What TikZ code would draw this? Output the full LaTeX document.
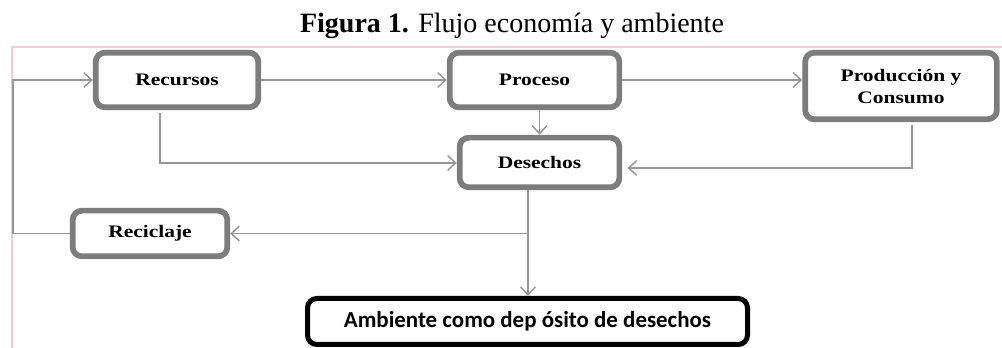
\documentclass[tikz,border=0pt]{standalone}
\usepackage{fontspec}
\setmainfont{Liberation Serif}
\newfontfamily\boxfont[FakeStretch=1.22]{Liberation Serif}
\newfontfamily\ambfont{Carlito}
\usetikzlibrary{arrows.meta}
\definecolor{boxgray}{RGB}{125,125,125}
\definecolor{linegray}{RGB}{150,150,150}
\definecolor{framepink}{RGB}{255,200,200}
\tikzset{
  gbox/.style={draw=boxgray, line width=4.3pt, rounded corners=7pt, fill=white,
    inner sep=0pt, align=center, font=\boxfont\bfseries\fontsize{13.2}{16.5}\selectfont},
  bbox/.style={draw=black, line width=3.75pt, rounded corners=7pt, fill=white,
    inner sep=0pt, font=\ambfont\bfseries\fontsize{17.2}{20}\selectfont},
  conn/.style={draw=linegray, line width=1.1pt},
  arr/.style={conn, -{Straight Barb[length=6pt,width=11pt,line width=1.1pt]}},
}
\begin{document}
\begin{tikzpicture}[x=0.75pt,y=-0.75pt]
\useasboundingbox (0,0) rectangle (1002,348);
% frame
\draw[framepink, line width=1.2pt] (1002,47) -- (12,47) -- (12,348);
% title
\node[anchor=base, font=\fontsize{21}{25}\selectfont, inner sep=0pt] (title) at (512,33) {\textbf{Figura 1.} Flujo economía y ambiente};
% boxes
\node[gbox, minimum width=122pt, minimum height=41pt] (rec) at (177,80) {Recursos};
\node[gbox, minimum width=127.3pt, minimum height=41pt] (pro) at (534.5,80) {Proceso};
\node[gbox, minimum width=143.8pt, minimum height=50pt] (prod) at (901,86) {Producción y\\Consumo};
\node[gbox, minimum width=119.8pt, minimum height=37.3pt] (des) at (539.5,162.5) {Desechos};
\node[gbox, minimum width=116pt, minimum height=34.3pt] (rci) at (150,233.5) {Reciclaje};
\node[bbox, minimum width=330pt, minimum height=34.5pt] (amb) at (527.5,321.5) {Ambiente como dep ósito de desechos};
% helper coordinates
\coordinate (loopA) at (13,233.5);
\coordinate (loopB) at (13,80);
\coordinate (recOut) at (160,113);
\coordinate (recTurn) at (160,163);
\coordinate (prodOut) at (912,125);
\coordinate (prodTurn) at (912,168);
\coordinate (desOut) at (528,190);
\coordinate (split) at (528,233.5);
% connectors
\draw[arr] (rci.west) -- (loopA) -- (loopB) -- (rec.west);
\draw[arr] (rec.east) -- (pro.west);
\draw[arr] (pro.east) -- (pro.east -| prod.west);
\draw[arr] (des.north |- pro.south) -- (des.north);
\draw[arr] (recOut) -- (recTurn) -- (recTurn -| des.west);
\draw[arr] (prodOut) -- (prodTurn) -- ([xshift=4pt]prodTurn -| des.east);
\draw[arr] (desOut) -- (desOut |- amb.north);
\draw[arr] (split) -- (rci.east);
\end{tikzpicture}
\end{document}
